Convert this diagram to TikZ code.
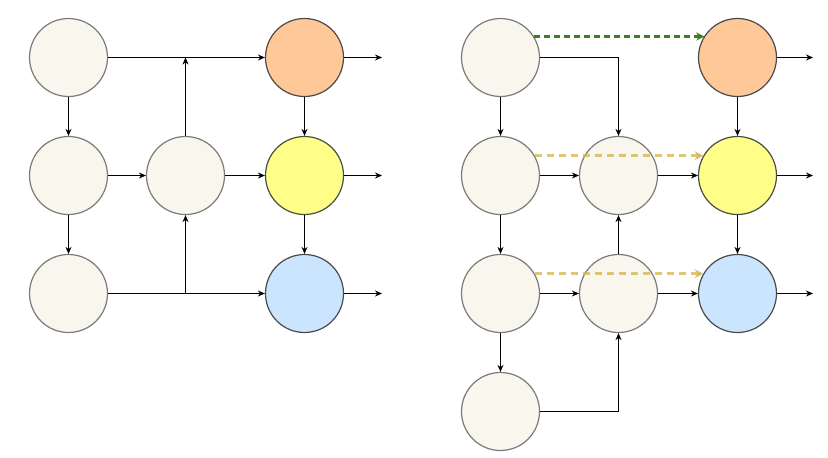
\documentclass[tikz,border=0pt]{standalone}
\usetikzlibrary{arrows.meta}
\definecolor{nodefill}{HTML}{F9F7ED}
\definecolor{nodeline}{HTML}{7A7A7A}
\definecolor{orangefill}{HTML}{FFC899}
\definecolor{yellowfill}{HTML}{FFFF88}
\definecolor{bluefill}{HTML}{CCE5FF}
\definecolor{darkline}{HTML}{4A4A4A}
\definecolor{greendash}{HTML}{3B7F1E}
\definecolor{tandash}{HTML}{D6B656}
\begin{document}
\begin{tikzpicture}[x=1pt,y=-1pt,
  cell/.style={circle,draw=nodeline,fill=nodefill,line width=1.2pt,minimum size=78pt,inner sep=0pt},
  orangecell/.style={cell,fill=orangefill,draw=darkline},
  yellowcell/.style={cell,fill=yellowfill,draw=darkline},
  bluecell/.style={cell,fill=bluefill,draw=darkline},
  link/.style={line width=1.1pt,-{Stealth[length=7pt,width=6pt]}},
  greenlink/.style={draw=greendash,line width=2.4pt,dash pattern=on 6pt off 4pt,-{Stealth[length=8pt,width=8pt]}},
  tanlink/.style={draw=tandash,line width=2.6pt,dash pattern=on 7pt off 5pt,opacity=0.8,-{Stealth[length=9pt,width=9pt]}}
]
\useasboundingbox (0,0) rectangle (828,458);

% ---------- left diagram ----------
\node[cell] (LA) at (68.5,57.5) {};
\node[cell] (LB) at (68.5,175.5) {};
\node[cell] (LC) at (68.5,293.5) {};
\node[cell] (LM) at (185.5,175.5) {};
\node[orangecell] (LO) at (304.5,57.5) {};
\node[yellowcell] (LY) at (304.5,175.5) {};
\node[bluecell] (LBl) at (304.5,293.5) {};
\coordinate (LJtop) at (185.5,57.5);
\coordinate (LJbot) at (185.5,293.5);
\coordinate (LoutO) at (382,57.5);
\coordinate (LoutY) at (382,175.5);
\coordinate (LoutB) at (382,293.5);

\draw[link] (LA) -- (LO);
\draw[link] (LM) -- (LJtop);
\draw[link] (LC) -- (LBl);
\draw[link] (LJbot) -- (LM);
\draw[link] (LA) -- (LB);
\draw[link] (LB) -- (LC);
\draw[link] (LB) -- (LM);
\draw[link] (LM) -- (LY);
\draw[link] (LO) -- (LY);
\draw[link] (LY) -- (LBl);
\draw[link] (LO) -- (LoutO);
\draw[link] (LY) -- (LoutY);
\draw[link] (LBl) -- (LoutB);

% ---------- right diagram ----------
\node[cell] (RA) at (500.5,57.5) {};
\node[cell] (RB) at (500.5,175.5) {};
\node[cell] (RC) at (500.5,293.5) {};
\node[cell] (RD) at (500.5,411.5) {};
\node[cell] (RM) at (618.5,175.5) {};
\node[cell] (RN) at (618.5,293.5) {};
\node[orangecell] (RO) at (737.5,57.5) {};
\node[yellowcell] (RY) at (737.5,175.5) {};
\node[bluecell] (RBl) at (737.5,293.5) {};
\coordinate (RoutO) at (813,57.5);
\coordinate (RoutY) at (813,175.5);
\coordinate (RoutB) at (813,293.5);

\draw[link] (RA.east) -| (RM.north);
\draw[link] (RD.east) -| (RN.south);
\draw[link] (RA) -- (RB);
\draw[link] (RB) -- (RC);
\draw[link] (RC) -- (RD);
\draw[link] (RB) -- (RM);
\draw[link] (RM) -- (RY);
\draw[link] (RC) -- (RN);
\draw[link] (RN) -- (RBl);
\draw[link] (RN) -- (RM);
\draw[link] (RO) -- (RY);
\draw[link] (RY) -- (RBl);
\draw[link] (RO) -- (RoutO);
\draw[link] (RY) -- (RoutY);
\draw[link] (RBl) -- (RoutB);

\draw[greenlink] (RA.32.6) -- (RO.147.4 |- RA.32.6);
\draw[tanlink] (RB.30.9) -- (RY.149.1 |- RB.30.9);
\draw[tanlink] (RC.30.9) -- (RBl.149.1 |- RC.30.9);
\end{tikzpicture}
\end{document}
